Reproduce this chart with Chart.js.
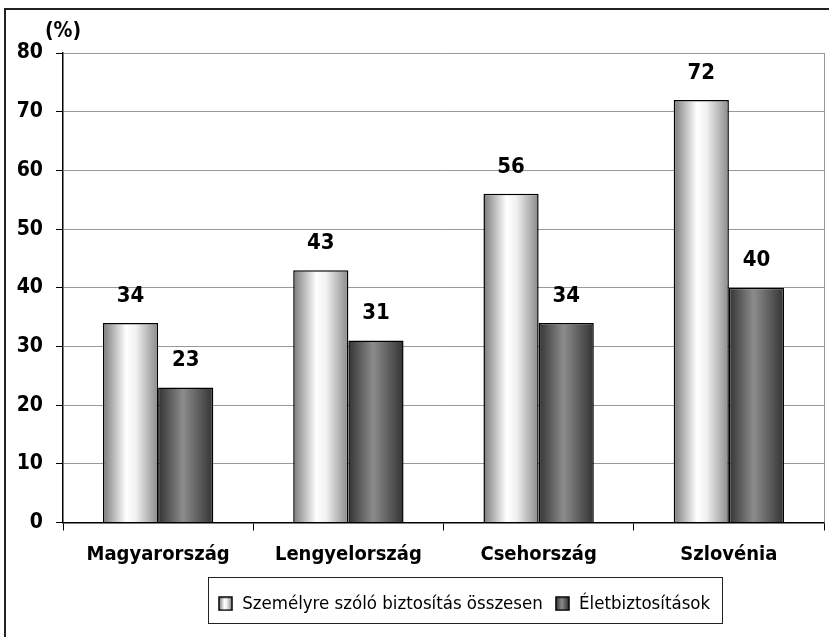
<!DOCTYPE html>
<html>
<head>
<meta charset="utf-8">
<script src="https://cdn.jsdelivr.net/npm/chart.js@4.4.1/dist/chart.umd.min.js"></script>
<style>
  html, body { margin: 0; padding: 0; background: #fff; }
  #wrap { position: relative; width: 829px; height: 637px; }
  #frame { position: absolute; left: 4px; top: 8px; right: 0; bottom: 0;
           border-left: 2px solid #222; border-top: 2px solid #222; pointer-events: none; }
  canvas { position: absolute; left: 0; top: 0; }
</style>
</head>
<body>
<div id="wrap">
  <canvas id="chart" width="829" height="637"></canvas>
  <div id="frame"></div>
</div>
<script>
const countries = ['Magyarország', 'Lengyelország', 'Csehország', 'Szlovénia'];
const totalPersonal = [34, 43, 56, 72];
const lifeInsurance = [23, 31, 34, 40];
const yTicks = [0, 10, 20, 30, 40, 50, 60, 70, 80];
const seriesNames = ['Személyre szóló biztosítás összesen', 'Életbiztosítások'];

const NARROW = "'DejaVu Sans Condensed', 'Liberation Sans Narrow', 'Arial Narrow', sans-serif";
const CAT_PCT = 0.58;
const LEGEND_SHIFT = 52;

// horizontal "cylinder" shading for each bar
function barGradient(c, x0, x1, light) {
  const g = c.createLinearGradient(x0, 0, x1, 0);
  if (light) {
    g.addColorStop(0, '#7a7a7a');
    g.addColorStop(0.42, '#ffffff');
    g.addColorStop(0.6, '#f0f0f0');
    g.addColorStop(1, '#8a8a8a');
  } else {
    g.addColorStop(0, '#333333');
    g.addColorStop(0.45, '#8c8c8c');
    g.addColorStop(1, '#333333');
  }
  return g;
}

function shade(light) {
  return function (context) {
    const chart = context.chart;
    const xs = chart.scales.x;
    if (!xs || context.dataIndex === undefined) return light ? '#ddd' : '#666';
    const center = xs.getPixelForValue(context.dataIndex);
    const w = xs.width / countries.length * CAT_PCT / 2;
    const x0 = light ? center - w : center;
    return barGradient(chart.ctx, x0, x0 + w, light);
  };
}

function legendSwatch(light) {
  const cv = document.createElement('canvas');
  cv.width = 15; cv.height = 15;
  const c = cv.getContext('2d');
  c.fillStyle = barGradient(c, 1, 14, light);
  c.fillRect(1, 1, 13, 13);
  c.strokeStyle = '#000';
  c.lineWidth = 1.5;
  c.strokeRect(1, 1, 13, 13);
  return cv;
}

const extras = {
  id: 'extras',
  afterLayout(chart) {
    const lg = chart.legend;
    lg.left += LEGEND_SHIFT;
    lg.right += LEGEND_SHIFT;
    lg.adjustHitBoxes();
  },
  afterDatasetsDraw(chart) {
    const c = chart.ctx;
    c.save();
    c.font = 'bold 22px ' + NARROW;
    c.fillStyle = '#000';
    c.textAlign = 'center';
    c.textBaseline = 'middle';
    chart.data.datasets.forEach((ds, di) => {
      chart.getDatasetMeta(di).data.forEach((bar, i) => {
        c.fillText(String(ds.data[i]), bar.x, bar.y - 27);
      });
    });
    c.restore();
  },
  afterDraw(chart) {
    const c = chart.ctx;
    const a = chart.chartArea;
    c.save();
    // plot area right border
    c.strokeStyle = '#999';
    c.lineWidth = 1;
    c.beginPath();
    c.moveTo(a.right + 0.5, a.top);
    c.lineTo(a.right + 0.5, a.bottom);
    c.stroke();
    // unit label
    c.font = 'bold 21px ' + NARROW;
    c.fillStyle = '#000';
    c.textAlign = 'center';
    c.textBaseline = 'middle';
    c.fillText('(%)', a.left, 32);
    // legend frame
    const hb = chart.legend.legendHitBoxes;
    if (hb && hb.length) {
      const l = hb[0].left - 10;
      const last = hb[hb.length - 1];
      const r = last.left + last.width + 12;
      c.strokeStyle = '#222';
      c.lineWidth = 1;
      c.strokeRect(Math.round(l) + 0.5, 577.5, Math.round(r - l), 46);
    }
    c.restore();
  }
};

new Chart(document.getElementById('chart'), {
  type: 'bar',
  data: {
    labels: countries,
    datasets: [
      {
        label: seriesNames[0],
        data: totalPersonal,
        backgroundColor: shade(true),
        borderColor: '#000',
        borderWidth: 1.5,
        categoryPercentage: CAT_PCT,
        barPercentage: 1
      },
      {
        label: seriesNames[1],
        data: lifeInsurance,
        backgroundColor: shade(false),
        borderColor: '#000',
        borderWidth: 1.5,
        categoryPercentage: CAT_PCT,
        barPercentage: 1
      }
    ]
  },
  options: {
    responsive: false,
    animation: false,
    devicePixelRatio: 1,
    layout: { padding: { left: 0, right: 5, top: 53, bottom: 14 } },
    scales: {
      x: {
        afterFit: s => { s.height = 60; },
        grid: {
          offset: true,
          drawOnChartArea: false,
          drawTicks: true,
          tickLength: 8,
          tickColor: '#000'
        },
        border: { color: '#000', width: 1.5 },
        ticks: {
          color: '#000',
          padding: 12,
          font: { family: NARROW, size: 20, weight: 'bold' }
        }
      },
      y: {
        min: 0,
        max: 80,
        afterFit: s => { s.width = 63; },
        afterBuildTicks: s => { s.ticks = yTicks.map(v => ({ value: v })); },
        grid: {
          color: '#999',
          lineWidth: 1,
          drawTicks: true,
          tickLength: 7,
          tickColor: '#000'
        },
        border: { color: '#000', width: 1.5 },
        ticks: {
          color: '#000',
          padding: 13,
          font: { family: NARROW, size: 21, weight: 'bold' }
        }
      }
    },
    plugins: {
      tooltip: { enabled: false },
      legend: {
        position: 'bottom',
        labels: {
          color: '#000',
          boxWidth: 15,
          boxHeight: 15,
          padding: 12,
          usePointStyle: true,
          font: { family: NARROW, size: 18.5 },
          generateLabels(chart) {
            return seriesNames.map((name, i) => ({
              text: name,
              pointStyle: legendSwatch(i === 0),
              fillStyle: i === 0 ? '#ddd' : '#666',
              strokeStyle: '#000',
              lineWidth: 1.5,
              datasetIndex: i
            }));
          }
        }
      }
    }
  },
  plugins: [extras]
});
</script>
</body>
</html>
